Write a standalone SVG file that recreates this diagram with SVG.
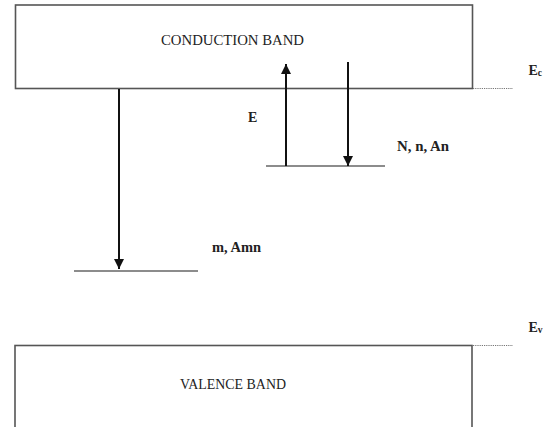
<svg xmlns="http://www.w3.org/2000/svg" width="547" height="427" viewBox="0 0 547 427">
<style>
.band{fill:#fff;stroke:#555;stroke-width:1.6}
.lvl{stroke:#666;stroke-width:1.6}
.arr{stroke:#111;stroke-width:2;fill:none}
.dot{stroke:#777;stroke-width:1.2;stroke-dasharray:1.2 1}
.bt{font-family:"Liberation Serif",serif;font-size:14.5px;fill:#222}
.lb{font-family:"Liberation Serif",serif;font-weight:bold;font-size:14px;fill:#222}
</style>
<defs>
<marker id="ah" viewBox="0 0 10 10" refX="10" refY="5" markerWidth="5" markerHeight="5" markerUnits="strokeWidth" orient="auto">
<path d="M0,0 L10,5 L0,10 z" fill="#111"/>
</marker>
</defs>
<rect width="547" height="427" fill="#fff"/>
<g id="conduction">
<rect class="band" x="15.5" y="5" width="457" height="83.5"/>
<text class="bt" x="232.5" y="45" text-anchor="middle" textLength="143" lengthAdjust="spacingAndGlyphs">CONDUCTION BAND</text>
</g>
<g id="valence">
<rect class="band" x="15" y="345.5" width="457" height="100"/>
<text class="bt" x="233" y="389" text-anchor="middle" textLength="106" lengthAdjust="spacingAndGlyphs">VALENCE BAND</text>
</g>
<g id="level-n">
<line class="lvl" x1="266" y1="166" x2="385" y2="166"/>
<text class="lb" x="397" y="151" textLength="52" lengthAdjust="spacingAndGlyphs">N, n, An</text>
</g>
<g id="level-m">
<line class="lvl" x1="74" y1="271" x2="198" y2="271"/>
<text class="lb" x="212" y="252" textLength="49" lengthAdjust="spacingAndGlyphs">m, Amn</text>
</g>
<g id="ec">
<line class="dot" x1="473" y1="88.5" x2="513" y2="88.5"/>
<text class="lb" x="528.5" y="75">E<tspan font-size="9.5" dy="1">c</tspan></text>
</g>
<g id="ev">
<line class="dot" x1="473" y1="345.5" x2="513" y2="345.5"/>
<text class="lb" x="528.5" y="332">E<tspan font-size="9.5" dy="1">v</tspan></text>
</g>
<g id="connectors">
<line class="arr" x1="286" y1="166" x2="286" y2="64" marker-end="url(#ah)"/>
<line class="arr" x1="348" y1="62" x2="348" y2="166" marker-end="url(#ah)"/>
<line class="arr" x1="119" y1="89" x2="119" y2="269" marker-end="url(#ah)"/>
<text class="lb" x="248" y="122">E</text>
</g>
</svg>
